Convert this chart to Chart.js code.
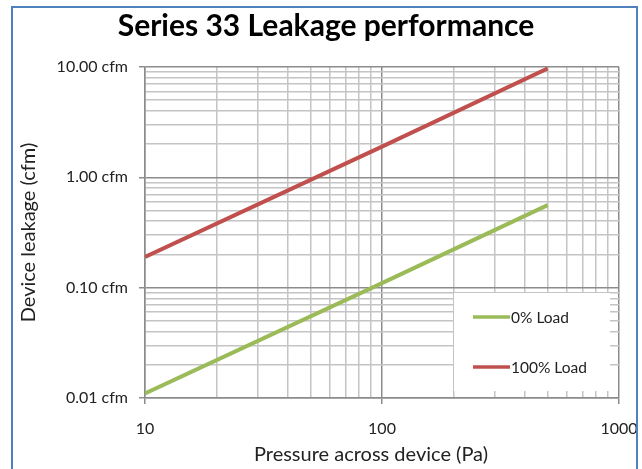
<!DOCTYPE html>
<html>
<head>
<meta charset="utf-8">
<script src="https://cdn.jsdelivr.net/npm/chart.js@4"></script>
<style>
  html, body { margin: 0; padding: 0; background: #fff; }
  #wrap { width: 642px; height: 469px; position: relative; }
</style>
</head>
<body>
<div id="wrap"><canvas id="chart" width="642" height="469"></canvas></div>
<script>
// data
const pressure = [10, 100, 500]
const load0 = [0.011, 0.11, 0.56]
const load100 = [0.19, 1.9, 9.7]
const xTicks = [10, 20, 30, 40, 50, 60, 70, 80, 90, 100, 200, 300, 400, 500, 600, 700, 800, 900, 1000]
const yTicks = [0.01, 0.02, 0.03, 0.04, 0.05, 0.06, 0.07, 0.08, 0.09,
                0.1, 0.2, 0.3, 0.4, 0.5, 0.6, 0.7, 0.8, 0.9,
                1, 2, 3, 4, 5, 6, 7, 8, 9, 10]
const yLabels = {0.01: '0.01 cfm', 0.1: '0.10 cfm', 1: '1.00 cfm', 10: '10.00 cfm'}

const FONT = 'Lato, "Open Sans", sans-serif'
const isMajor = v => Math.abs(Math.log10(v) - Math.round(Math.log10(v))) < 1e-9

const toPts = ys => pressure.map((x, i) => ({x: x, y: ys[i]}))

const frame = {
    id: 'frame',
    beforeDraw(chart){
        const c = chart.ctx
        c.save()
        c.fillStyle = '#fff'
        c.fillRect(0, 0, chart.width, chart.height)
        c.restore()
    },
    afterDraw(chart){
        const c = chart.ctx
        c.save()
        c.strokeStyle = '#4f81bd'
        c.lineWidth = 2
        c.strokeRect(12, 7, 625, 480)
        c.textAlign = 'center'
        c.textBaseline = 'middle'
        // title
        c.fillStyle = '#000'
        c.font = 'bold 30px ' + FONT
        c.fillText('Series 33 Leakage performance', 326, 26)
        // x axis title (Excel puts it a bit left of the plot centre)
        c.fillStyle = '#222'
        c.font = '20px ' + FONT
        c.fillText('Pressure across device (Pa)', 371, 455)
        c.restore()
    }
}

const insideLegend = {
    id: 'insideLegend',
    afterDatasetsDraw(chart){
        const c = chart.ctx
        c.save()
        c.fillStyle = '#fff'
        c.fillRect(454, 293, 156, 98)
        const rows = [317, 367]
        chart.data.datasets.forEach((ds, i) => {
            const y = rows[i]
            c.strokeStyle = ds.borderColor
            c.lineWidth = 3.5
            c.beginPath()
            c.moveTo(473, y)
            c.lineTo(510, y)
            c.stroke()
            c.fillStyle = '#222'
            c.font = '15.5px ' + FONT
            c.textBaseline = 'middle'
            c.fillText(ds.label, 511, y + 1)
        })
        c.restore()
    }
}

new Chart(document.getElementById('chart'), {
    type: 'line',
    data: {
        datasets: [
            {label: '0% Load', data: toPts(load0), borderColor: '#9bbb59', borderWidth: 4, pointRadius: 0, tension: 0},
            {label: '100% Load', data: toPts(load100), borderColor: '#c0504d', borderWidth: 4, pointRadius: 0, tension: 0}
        ]
    },
    options: {
        responsive: false,
        animation: false,
        layout: {padding: {left: 0, top: 67, right: 23, bottom: 0}},
        plugins: {legend: {display: false}, title: {display: false}, tooltip: {enabled: false}},
        scales: {
            x: {
                type: 'logarithmic',
                min: 10, max: 1000,
                afterBuildTicks: s => { s.ticks = xTicks.map(v => ({value: v, major: isMajor(v)})) },
                afterFit: s => { s.height = 71; s.paddingLeft = 0; s.paddingRight = 0 },
                ticks: {
                    autoSkip: false, maxRotation: 0, padding: 15,
                    color: '#222', font: {family: FONT, size: 16},
                    callback: v => isMajor(v) ? String(v) : ''
                },
                grid: {
                    color: ctx => ctx.tick && isMajor(ctx.tick.value) ? '#8c8c8c' : '#c4c4c4',
                    tickColor: ctx => ctx.tick && isMajor(ctx.tick.value) ? '#8c8c8c' : 'rgba(0,0,0,0)',
                    tickLength: 6, lineWidth: 1.5
                },
                border: {color: '#8c8c8c', width: 1.5}
            },
            y: {
                type: 'logarithmic',
                min: 0.01, max: 10,
                afterBuildTicks: s => { s.ticks = yTicks.map(v => ({value: v, major: isMajor(v)})) },
                afterFit: s => { s.width = 145; s.paddingTop = 0; s.paddingBottom = 0 },
                ticks: {
                    autoSkip: false, padding: 11,
                    color: '#222', font: {family: FONT, size: 16},
                    callback: v => {
                        for (const k in yLabels) if (Math.abs(k - v) < 1e-9) return yLabels[k]
                        return ''
                    }
                },
                grid: {
                    color: ctx => ctx.tick && isMajor(ctx.tick.value) ? '#8c8c8c' : '#c4c4c4',
                    tickColor: ctx => ctx.tick && isMajor(ctx.tick.value) ? '#8c8c8c' : 'rgba(0,0,0,0)',
                    tickLength: 6, lineWidth: 1.5
                },
                border: {color: '#8c8c8c', width: 1.5},
                title: {display: true, text: 'Device leakage (cfm)', color: '#222',
                        font: {family: FONT, size: 20}, padding: {top: 17, bottom: 4}}
            }
        }
    },
    plugins: [frame, insideLegend]
})
</script>
</body>
</html>
